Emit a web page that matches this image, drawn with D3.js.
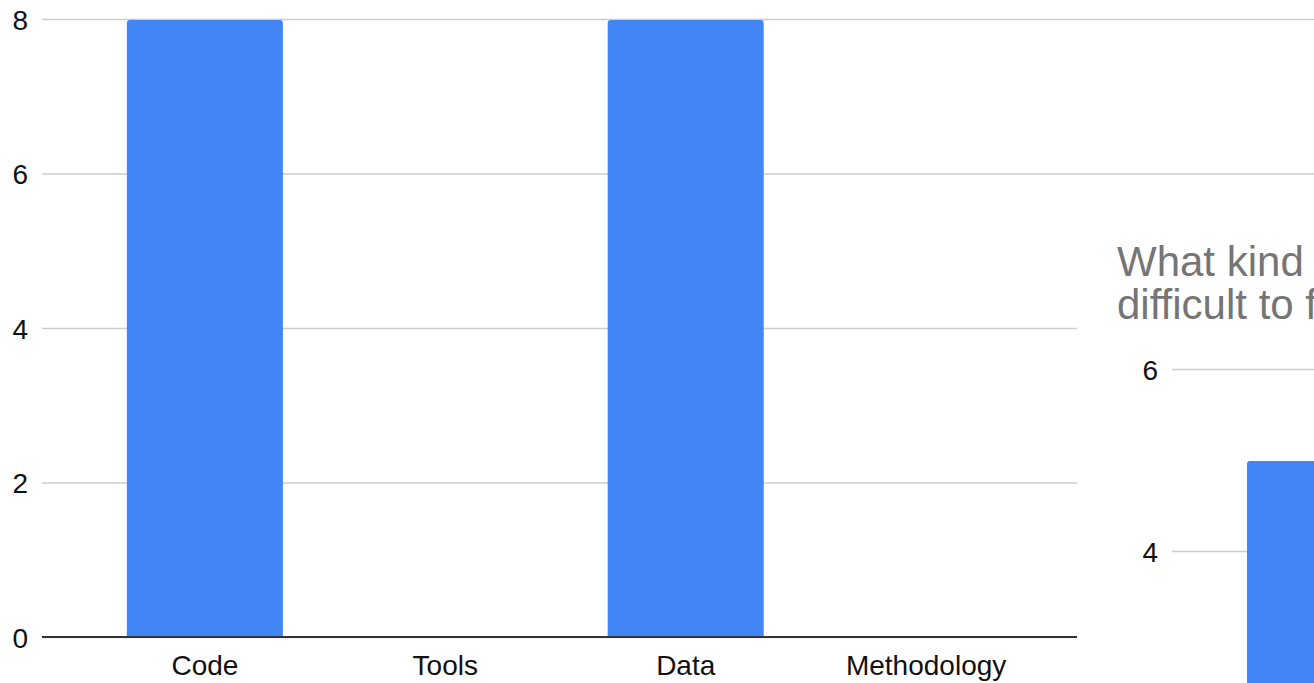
<!DOCTYPE html>
<html>
<head>
<meta charset="utf-8">
<script src="https://cdn.jsdelivr.net/npm/d3@7"></script>
<style>
  html, body { margin: 0; padding: 0; background: #fff; }
  svg { display: block; font-family: "Liberation Sans", Arial, sans-serif; }
</style>
</head>
<body>
<svg id="chart" width="1314" height="683"></svg>
<script>
// Left chart: responses per category
const leftCategories = ["Code", "Tools", "Data", "Methodology"];
const leftValues = [8, 0, 8, 0];
const leftTicks = [0, 2, 4, 6, 8];

// Right chart: second question, partially visible
const rightTitleLines = ["What kind of resource was most", "difficult to find?"];
const rightValues = [5];
const rightTicks = [0, 2, 4, 6];

const W = 1314, H = 683;
const BAR = "#4285f4", GRID = "#cccccc", BASE = "#333333";
const svg = d3.select("#chart");

// path for a bar with rounded top corners
function barPath(x, y, w, h, r) {
  r = Math.min(r, w / 2, h);
  return `M${x},${y + h}V${y + r}Q${x},${y} ${x + r},${y}H${x + w - r}Q${x + w},${y} ${x + w},${y + r}V${y + h}Z`;
}

// ---------- left chart ----------
const L = { left: 42, right: W, top: 19, bottom: 637 };
const xL = d3.scaleBand()
  .domain(leftCategories)
  .range([L.left, 1089])
  .paddingInner(0.351)
  .paddingOuter(0.353);
const yL = d3.scaleLinear().domain([0, 8]).range([L.bottom, L.top]);

const gyL = svg.append("g")
  .attr("transform", `translate(${L.left},0)`)
  .call(d3.axisLeft(yL).tickValues(leftTicks).tickFormat(d3.format("d"))
    .tickSize(-(L.right - L.left)).tickPadding(14));
gyL.select(".domain").remove();
gyL.selectAll(".tick line").attr("stroke", GRID).attr("stroke-width", 1.6);
gyL.selectAll(".tick text").attr("fill", "#111").style("font-size", "28px").attr("dy", "0.36em");

svg.append("g").selectAll("path")
  .data(leftValues.map((v, i) => ({ c: leftCategories[i], v })).filter(d => d.v > 0))
  .join("path")
  .attr("fill", BAR)
  .attr("d", d => barPath(xL(d.c), yL(d.v) + 1, xL.bandwidth(), yL(0) - yL(d.v) - 1, 3));

svg.append("line")
  .attr("x1", L.left).attr("x2", L.right)
  .attr("y1", yL(0)).attr("y2", yL(0))
  .attr("stroke", BASE).attr("stroke-width", 1.8);

const gxL = svg.append("g")
  .attr("transform", `translate(0,${L.bottom})`)
  .call(d3.axisBottom(xL).tickSize(0).tickPadding(18));
gxL.select(".domain").remove();
gxL.selectAll(".tick text").attr("fill", "#111").style("font-size", "28px");

// ---------- right chart (overlapping panel) ----------
const R = { x: 1077, y: 205 };
const rightPanel = svg.append("g");
rightPanel.append("rect")
  .attr("x", R.x).attr("y", R.y)
  .attr("width", W - R.x).attr("height", H - R.y)
  .attr("fill", "#fff");

rightPanel.append("text")
  .attr("x", 1117).attr("y", 276)
  .attr("fill", "#757575")
  .style("font-size", "42px")
  .selectAll("tspan")
  .data(rightTitleLines)
  .join("tspan")
  .attr("x", 1117)
  .attr("dy", (d, i) => i === 0 ? 0 : 43)
  .text(d => d);

const yR = d3.scaleLinear().domain([0, 6]).range([915, 369]);
const xR = d3.scaleBand().domain(d3.range(rightValues.length)).range([1247, 1407]);

const gyR = rightPanel.append("g")
  .attr("transform", "translate(1172,0)")
  .call(d3.axisLeft(yR).tickValues(rightTicks).tickFormat(d3.format("d"))
    .tickSize(-(W + 100 - 1172)).tickPadding(14));
gyR.select(".domain").remove();
gyR.selectAll(".tick line").attr("stroke", GRID).attr("stroke-width", 1.6);
gyR.selectAll(".tick text").attr("fill", "#111").style("font-size", "28px").attr("dy", "0.36em");

rightPanel.append("g").selectAll("path")
  .data(rightValues.map((v, i) => ({ i, v })))
  .join("path")
  .attr("fill", BAR)
  .attr("d", d => barPath(xR(d.i), yR(d.v) + 1, xR.bandwidth(), yR(0) - yR(d.v) - 1, 3));
</script>
</body>
</html>
